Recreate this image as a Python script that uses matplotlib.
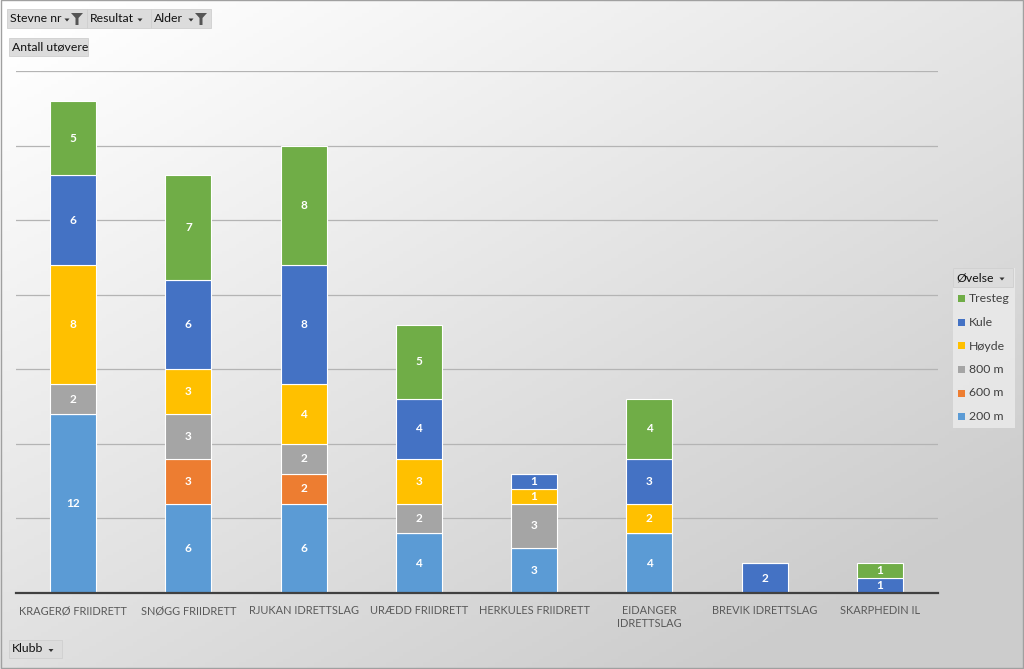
import numpy as np
import matplotlib
matplotlib.use("Agg")
import matplotlib.pyplot as plt
from matplotlib.patches import Rectangle, Polygon

plt.rcParams['font.family'] = ['Lato', 'DejaVu Sans']

klubber = ["KRAGERØ FRIIDRETT", "SNØGG FRIIDRETT", "RJUKAN IDRETTSLAG", "URÆDD FRIIDRETT",
           "HERKULES FRIIDRETT", "EIDANGER\nIDRETTSLAG", "BREVIK IDRETTSLAG", "SKARPHEDIN IL"]
ovelser = ["200 m", "600 m", "800 m", "Høyde", "Kule", "Tresteg"]
m200 = [12, 6, 6, 4, 3, 4, 0, 0]
m600 = [0, 3, 2, 0, 0, 0, 0, 0]
m800 = [2, 3, 2, 2, 3, 0, 0, 0]
hoyde = [8, 3, 4, 3, 1, 2, 0, 0]
kule = [6, 6, 8, 4, 1, 3, 2, 1]
tresteg = [5, 7, 8, 5, 0, 4, 0, 1]
serier = [m200, m600, m800, hoyde, kule, tresteg]
farger = ["#5B9BD5", "#ED7D31", "#A5A5A5", "#FFC000", "#4472C4", "#70AD47"]

W, H = 1024, 669
fig = plt.figure(figsize=(W / 100, H / 100), dpi=100)

# bakgrunn med gradient
bg = fig.add_axes([0, 0, 1, 1], zorder=-10)
xx, yy = np.meshgrid(np.linspace(0, 1, 300), np.linspace(0, 1, 200))
g = 1.0 - 0.20 * np.clip(0.55 * xx + 0.65 * yy - 0.05, 0, 1)
bg.imshow(np.dstack([g, g, g]), aspect="auto", extent=[0, 1, 0, 1], origin="upper")
bg.add_patch(Rectangle((0.0005, 0.0008), 0.999, 0.9985, fill=False, ec="#a0a0a0", lw=1))
bg.set_xlim(0, 1)
bg.set_ylim(0, 1)
bg.axis("off")

ax = fig.add_axes([15.5 / W, (H - 593) / H, 922 / W, 522 / H])
ax.patch.set_alpha(0)
x = np.arange(len(klubber))
bunn = np.zeros(len(klubber))
for navn, verdier, farge in zip(ovelser, serier, farger):
    v = np.array(verdier, dtype=float)
    ax.bar(x, v, 0.4, bottom=bunn, color=farge, edgecolor="white", linewidth=0.8, zorder=3, label=navn)
    for i, val in enumerate(v):
        if val > 0:
            ax.text(x[i], bunn[i] + val / 2, f"{int(val)}", ha="center", va="center",
                    color="white", fontsize=8.5, fontweight="bold", zorder=4)
    bunn += v

ax.set_xlim(-0.5, len(klubber) - 0.5)
ax.set_ylim(0, 35)
ax.set_yticks(np.arange(0, 36, 5))
ax.yaxis.grid(True, color="#b4b4b4", lw=0.9, zorder=0)
ax.tick_params(axis="y", left=False, labelleft=False)
ax.tick_params(axis="x", length=0, pad=9)
ax.set_xticks(x)
ax.set_xticklabels(klubber, color="#595959", fontsize=7.9)
for s in ["top", "right", "left"]:
    ax.spines[s].set_visible(False)
ax.spines["bottom"].set_color("#404040")
ax.spines["bottom"].set_linewidth(1.6)
ax.spines["bottom"].set_zorder(5)


def px(xp, yp):
    return xp / W, 1 - yp / H


def knapp(x0, y0, x1, y1, tekst, pil=False, trakt=False):
    bg.add_patch(Rectangle(px(x0, y1), (x1 - x0) / W, (y1 - y0) / H,
                           fc="#dcdcdc", ec="#cfcfcf", lw=0.6, zorder=2))
    bg.text(*px(x0 + 3, (y0 + y1) / 2), tekst, fontsize=8.8, color="#111111",
            va="center", ha="left", zorder=3)
    if pil:
        ax_ = x1 - 11 if not trakt else x1 - 20
        yc = (y0 + y1) / 2
        bg.add_patch(Polygon([px(ax_ - 2.5, yc), px(ax_ + 2.5, yc), px(ax_, yc + 3)],
                             closed=True, fc="#333333", ec="none", zorder=3))
    if trakt:
        cx = x1 - 10
        bg.add_patch(Polygon([px(cx - 6, y0 + 4), px(cx + 6, y0 + 4), px(cx + 1.5, y0 + 9),
                              px(cx + 1.5, y1 - 3), px(cx - 1.5, y1 - 3), px(cx - 1.5, y0 + 9)],
                             closed=True, fc="#555555", ec="none", zorder=3))


knapp(7, 9, 87, 28, "Stevne nr", pil=True, trakt=True)
knapp(87, 9, 151, 28, "Resultat", pil=True)
knapp(151, 9, 211, 28, "Alder", pil=True, trakt=True)
knapp(9, 38, 88, 56, "Antall utøvere")
knapp(9, 640, 62, 658, "Klubb", pil=True)

# legende
bg.add_patch(Rectangle(px(953, 428), 62 / W, 160 / H, fc="#ececec", ec="none", alpha=0.8, zorder=1))
knapp(953, 268, 1013, 287, "Øvelse", pil=True)
for k, (navn, farge) in enumerate(zip(ovelser[::-1], farger[::-1])):
    yc = 299 + k * 23.5
    bg.add_patch(Rectangle(px(958, yc + 3.5), 7 / W, 7 / H, fc=farge, ec="none", zorder=3))
    bg.text(*px(969, yc), navn, fontsize=8.8, color="#404040", va="center", ha="left", zorder=3)

fig.savefig("out.png", dpi=100)
